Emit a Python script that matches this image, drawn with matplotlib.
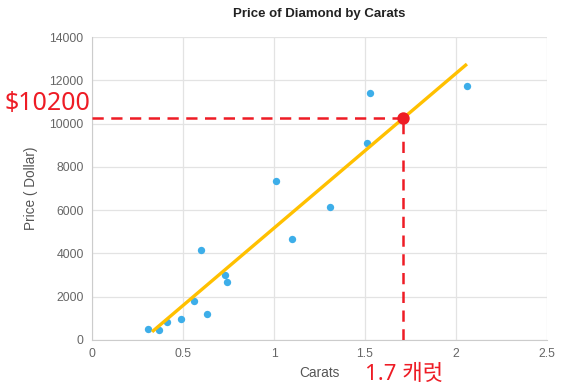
import numpy as np
import matplotlib
matplotlib.use('Agg')
import matplotlib.pyplot as plt

# ===== DATA =====
carats = [0.31, 0.37, 0.41, 0.49, 0.56, 0.60, 0.63, 0.73, 0.74, 1.01, 1.10, 1.31, 1.51, 1.53, 2.06]
prices = [510, 470, 850, 960, 1800, 4150, 1180, 2990, 2660, 7350, 4670, 6150, 9120, 11390, 11750]

fit_x = [0.33, 2.06]
fit_y = [380, 12750]

mark_x = 1.71
mark_y = 10250
mark_price_label = '$10200'
mark_carat_label = '1.7 캐럿'

x_ticks = [0, 0.5, 1, 1.5, 2, 2.5]
x_tick_labels = ['0', '0.5', '1', '1.5', '2', '2.5']
y_ticks = [0, 2000, 4000, 6000, 8000, 10000, 12000, 14000]

plt.rcParams['font.family'] = ['Liberation Sans', 'DejaVu Sans']
red_font = ['Noto Sans', 'Noto Sans CJK KR', 'DejaVu Sans']

fig = plt.figure(figsize=(5.64, 3.91), dpi=100)
ax = fig.add_axes([92 / 564, 1 - 340 / 391, (547 - 92) / 564, (340 - 37) / 391])

ax.scatter(carats, prices, s=28, color='#3daee9', zorder=3, linewidths=0)
ax.plot(fit_x, fit_y, color='#ffc000', lw=2.4, zorder=4, solid_capstyle='butt')

# 표시선
ax.plot([0, mark_x], [mark_y, mark_y], color='#ee1c25', lw=1.8, ls=(0, (4.5, 3)), zorder=5)
ax.plot([mark_x, mark_x], [0, mark_y], color='#ee1c25', lw=1.8, ls=(0, (4.5, 3)), zorder=5)
ax.scatter([mark_x], [mark_y], s=80, color='#ee1c25', zorder=6, linewidths=0)

ax.set_xlim(0, 2.5)
ax.set_ylim(0, 14000)
ax.set_xticks(x_ticks)
ax.set_xticklabels(x_tick_labels)
ax.set_yticks(y_ticks)
ax.tick_params(length=0, labelsize=8.8, colors='#666666', pad=6)
ax.grid(True, color='#e3e3e3', lw=0.9)
ax.set_axisbelow(True)
for side in ['top', 'right']:
    ax.spines[side].set_visible(False)
for side in ['left', 'bottom']:
    ax.spines[side].set_color('#cccccc')

ax.set_xlabel('Carats', fontsize=9.8, color='#555555', labelpad=4)
ax.set_ylabel('Price ( Dollar)', fontsize=9.8, color='#555555', labelpad=8)
fig.text(319 / 564, 1 - 14 / 391, 'Price of Diamond by Carats', ha='center', va='center',
         fontsize=9.5, fontweight='bold', color='#222222')

fig.text(4 / 564, 1 - 103 / 391, mark_price_label, ha='left', va='center',
         fontsize=18, color='#ee1c25', family=red_font)
fig.text(365 / 564, 1 - 374 / 391, mark_carat_label, ha='left', va='center',
         fontsize=16, color='#ee1c25', family=red_font)

fig.savefig('out.png', dpi=100)
